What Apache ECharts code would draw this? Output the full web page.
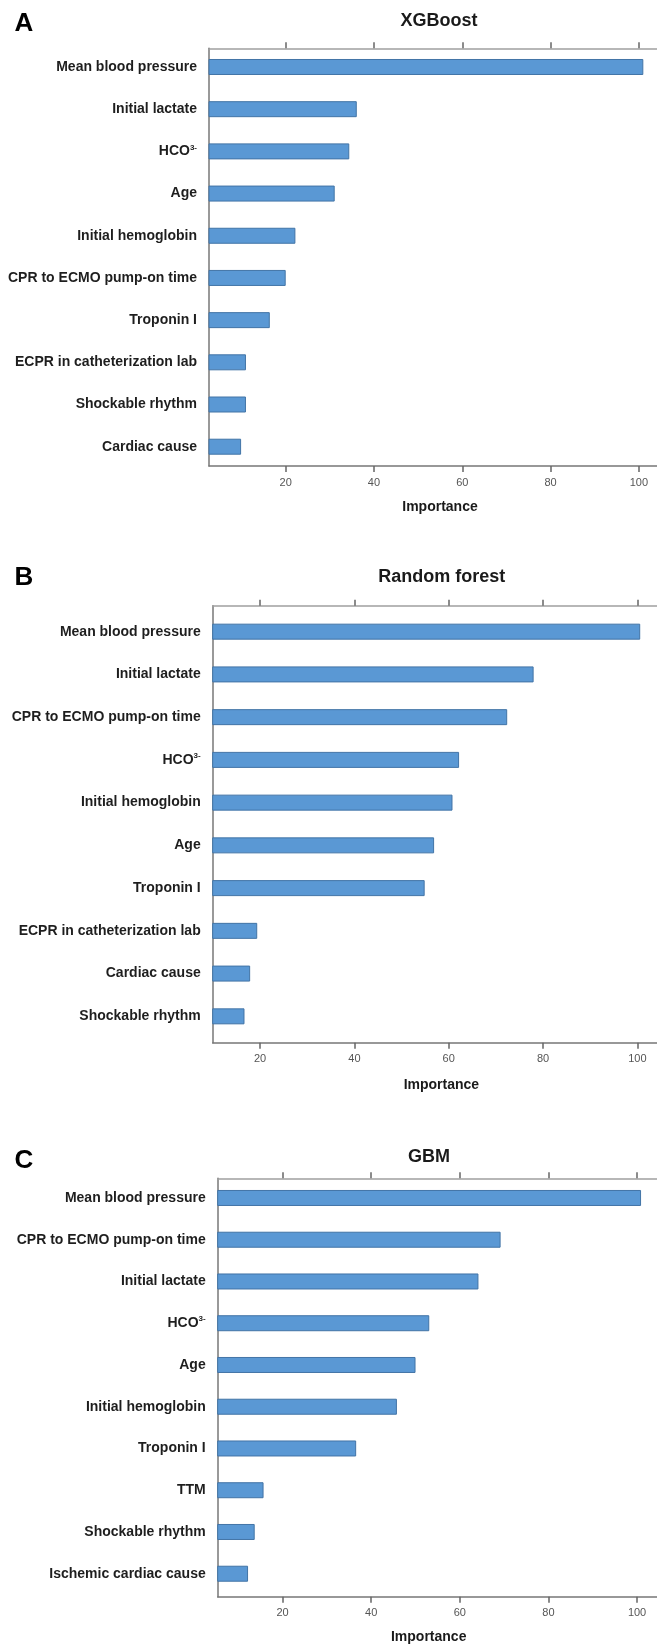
<!DOCTYPE html>
<html>
<head>
<meta charset="utf-8">
<script src="https://cdn.jsdelivr.net/npm/echarts@6/dist/echarts.min.js"></script>
<style>
  html, body { margin: 0; padding: 0; background: #fff; }
  #chart { width: 657px; height: 1648px; }
</style>
</head>
<body>
<div id="chart"></div>
<script>
// ---------------- DATA ----------------
const panelLetters = ['A', 'B', 'C'];
const panelTitles = ['XGBoost', 'Random forest', 'GBM'];
const axisTitle = 'Importance';
const tickValues = [20, 40, 60, 80, 100];

const xgbLabels = ['Mean blood pressure', 'Initial lactate', 'HCO³⁻', 'Age', 'Initial hemoglobin',
  'CPR to ECMO pump-on time', 'Troponin I', 'ECPR in catheterization lab', 'Shockable rhythm', 'Cardiac cause'];
const xgbValues = [101.0, 36.1, 34.4, 31.1, 22.2, 20.0, 16.4, 11.0, 11.0, 9.9];

const rfLabels = ['Mean blood pressure', 'Initial lactate', 'CPR to ECMO pump-on time', 'HCO³⁻', 'Initial hemoglobin',
  'Age', 'Troponin I', 'ECPR in catheterization lab', 'Cardiac cause', 'Shockable rhythm'];
const rfValues = [100.6, 78.0, 72.4, 62.2, 60.8, 56.9, 54.9, 19.4, 17.9, 16.7];

const gbmLabels = ['Mean blood pressure', 'CPR to ECMO pump-on time', 'Initial lactate', 'HCO³⁻', 'Age',
  'Initial hemoglobin', 'Troponin I', 'TTM', 'Shockable rhythm', 'Ischemic cardiac cause'];
const gbmValues = [100.9, 69.2, 64.2, 53.1, 50.0, 45.8, 36.6, 15.7, 13.7, 12.2];

// ---------------- LAYOUT ----------------
const FONT = '"Liberation Sans", Arial, Helvetica, sans-serif';
const layouts = [
  { left: 209, frameTop: 48.3, frameBottom: 466, barTop: 45.9, barBottom: 467.8, min: 2.63, max: 104.1,
    titleX: 439, titleY: 21, letterY: 24.2, nameX: 440, nameY: 506.7 },
  { left: 212.7, frameTop: 605.7, frameBottom: 1042.7, barTop: 610.3, barBottom: 1037.7, min: 9.96, max: 104.16,
    titleX: 441.8, titleY: 577.3, letterY: 577.5, nameX: 441.4, nameY: 1085 },
  { left: 217.7, frameTop: 1178.3, frameBottom: 1596.7, barTop: 1177.1, barBottom: 1594.6, min: 5.35, max: 104.5,
    titleX: 428.9, titleY: 1157, letterY: 1160.5, nameX: 428.7, nameY: 1636.7 }
];
const panelData = [
  { labels: xgbLabels, values: xgbValues },
  { labels: rfLabels, values: rfValues },
  { labels: gbmLabels, values: gbmValues }
];

const grids = [], xAxes = [], yAxes = [], series = [], graphics = [];

layouts.forEach((L, i) => {
  const frameGrid = grids.length;
  grids.push({ left: L.left, right: 0, top: L.frameTop, height: L.frameBottom - L.frameTop, containLabel: false });
  const barGrid = grids.length;
  grids.push({ left: L.left, right: 0, top: L.barTop, height: L.barBottom - L.barTop, containLabel: false });

  // frame: top axis (ticks only)
  xAxes.push({
    type: 'value', gridIndex: frameGrid, position: 'top', min: L.min, max: L.max,
    axisLine: { show: true, onZero: false, lineStyle: { color: '#a0a0a0', width: 1.5 } },
    axisTick: { show: true, customValues: tickValues, length: 6, lineStyle: { color: '#666', width: 1.5 } },
    axisLabel: { show: false },
    splitLine: { show: false }
  });
  // frame: bottom axis (ticks + labels)
  xAxes.push({
    type: 'value', gridIndex: frameGrid, position: 'bottom', min: L.min, max: L.max,
    axisLine: { show: true, onZero: false, lineStyle: { color: '#777', width: 1.5 } },
    axisTick: { show: true, customValues: tickValues, length: 6, lineStyle: { color: '#666', width: 1.5 } },
    axisLabel: { show: true, customValues: tickValues, margin: 11, fontSize: 11, color: '#555', fontFamily: FONT },
    splitLine: { show: false }
  });
  const barX = xAxes.length;
  xAxes.push({
    type: 'value', gridIndex: barGrid, min: L.min, max: L.max, show: false, splitLine: { show: false }
  });

  yAxes.push({
    type: 'value', gridIndex: frameGrid, min: 0, max: 1, position: 'left',
    axisLine: { show: true, onZero: false, lineStyle: { color: '#777', width: 1.5 } },
    axisTick: { show: false }, axisLabel: { show: false }, splitLine: { show: false }
  });
  const barY = yAxes.length;
  yAxes.push({
    type: 'category', gridIndex: barGrid, data: panelData[i].labels, inverse: true,
    axisLine: { show: false, onZero: false }, axisTick: { show: false }, splitLine: { show: false },
    axisLabel: {
      margin: 12, fontSize: 14, fontWeight: 'bold', color: '#1e1e1e', fontFamily: FONT,
      formatter: v => v === 'HCO³⁻' ? '{n|HCO}{s|3-}' : '{n|' + v + '}',
      rich: {
        n: { fontSize: 14, fontWeight: 'bold', color: '#1e1e1e', fontFamily: FONT, lineHeight: 16 },
        s: { fontSize: 8, fontWeight: 'bold', color: '#1e1e1e', fontFamily: FONT, verticalAlign: 'top', lineHeight: 16, padding: [0, 0, 6, 0] }
      }
    }
  });

  series.push({
    type: 'bar', xAxisIndex: barX, yAxisIndex: barY, data: panelData[i].values,
    barWidth: 16, clip: true, silent: true,
    itemStyle: { color: '#5a98d4', borderColor: '#4274a6', borderWidth: 1 }
  });

  graphics.push({
    type: 'text', x: 14.6, y: L.letterY,
    style: { text: panelLetters[i], font: 'bold 26px ' + FONT, fill: '#000',
      textAlign: 'left', textVerticalAlign: 'middle', align: 'left', verticalAlign: 'middle' }
  });
  graphics.push({
    type: 'text', x: L.titleX, y: L.titleY,
    style: { text: panelTitles[i], font: 'bold 18px ' + FONT, fill: '#1a1a1a',
      textAlign: 'center', textVerticalAlign: 'middle', align: 'center', verticalAlign: 'middle' }
  });
  graphics.push({
    type: 'text', x: L.nameX, y: L.nameY,
    style: { text: axisTitle, font: 'bold 14px ' + FONT, fill: '#1a1a1a',
      textAlign: 'center', textVerticalAlign: 'middle', align: 'center', verticalAlign: 'middle' }
  });
});

const chart = echarts.init(document.getElementById('chart'), null, { renderer: 'canvas' });
chart.setOption({
  animation: false,
  backgroundColor: '#ffffff',
  grid: grids,
  xAxis: xAxes,
  yAxis: yAxes,
  series: series,
  graphic: graphics
});
</script>
</body>
</html>
